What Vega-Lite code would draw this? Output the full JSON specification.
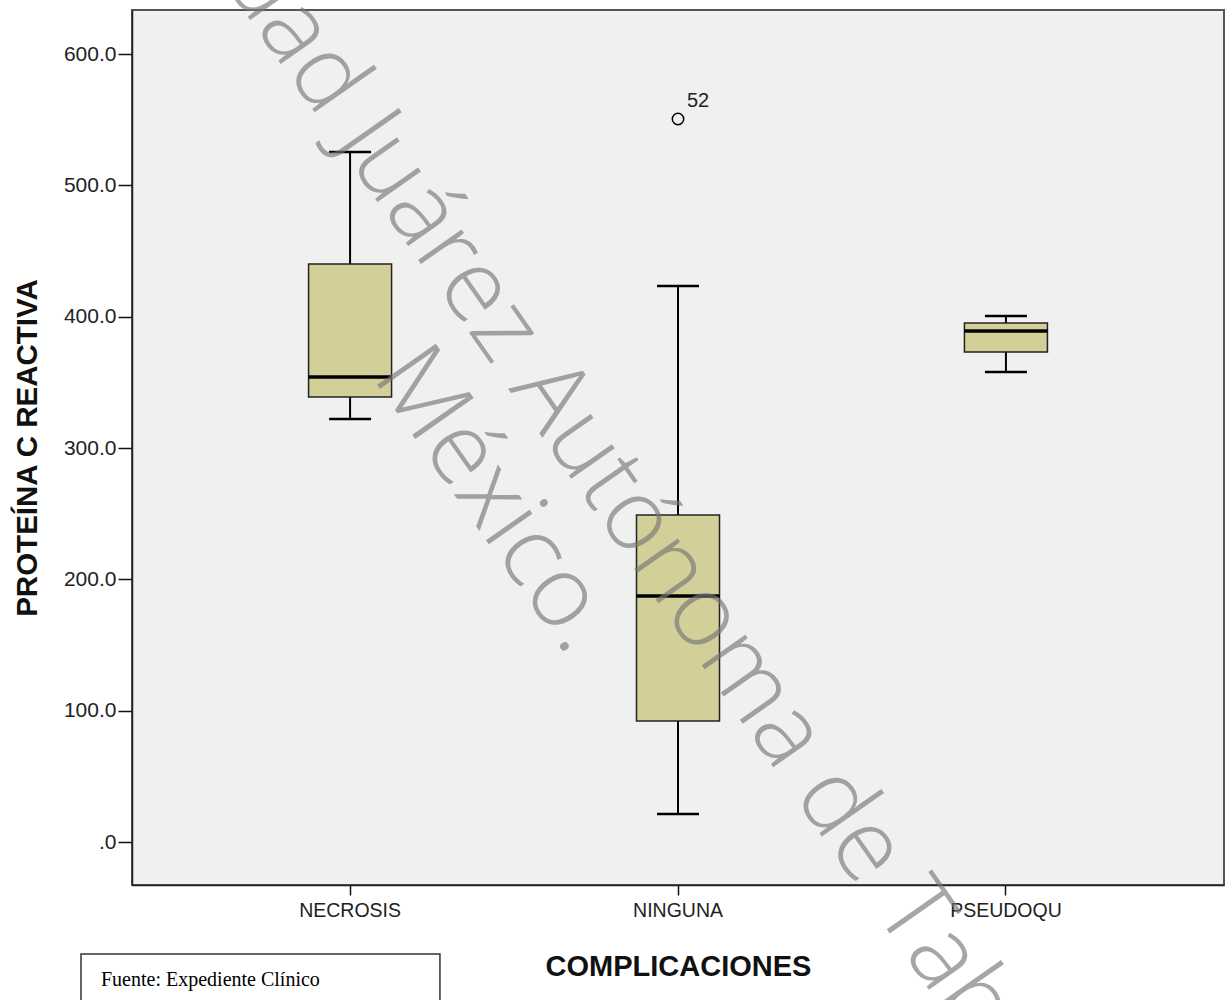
{
  "$schema": "https://vega.github.io/schema/vega-lite/v6.json",
  "width": 1092,
  "height": 875,
  "autosize": {"type": "none"},
  "padding": {"left": 132, "top": 10, "right": 2, "bottom": 115},
  "background": "white",
  "config": {
    "view": {"fill": "#f0f0f0", "stroke": "#555", "strokeWidth": 2},
    "font": "Liberation Sans"
  },
  "datasets": {
    "stats": [
      {"complicacion": "NECROSIS", "lower": 322.2, "q1": 338.9, "median": 354.1, "q3": 440.2, "upper": 525.5},
      {"complicacion": "NINGUNA", "lower": 21.3, "q1": 92.2, "median": 187.4, "q3": 249.0, "upper": 423.5},
      {"complicacion": "PSEUDOQU", "lower": 358.0, "q1": 373.2, "median": 389.2, "q3": 395.3, "upper": 400.6}
    ],
    "outliers": [
      {"complicacion": "NINGUNA", "pcr": 550.6, "caso": "52"}
    ],
    "notes": [
      {"tipo": "fuente", "texto": "Fuente: Expediente Clínico"},
      {"tipo": "marca1", "texto": "Universidad Juárez Autónoma de Tabasco."},
      {"tipo": "marca2", "texto": "México."}
    ]
  },
  "resolve": {"scale": {"x": "independent"}, "axis": {"x": "independent", "y": "independent"}},
  "layer": [
    {
      "data": {"name": "stats"},
      "encoding": {
        "x": {
          "field": "complicacion",
          "type": "nominal",
          "scale": {"domain": ["NECROSIS", "NINGUNA", "PSEUDOQU"], "paddingInner": 0, "paddingOuter": 0.165},
          "axis": {
            "title": "COMPLICACIONES",
            "titleFontSize": 29,
            "titleFontWeight": "bold",
            "titleColor": "#111",
            "titlePadding": 33,
            "labelFontSize": 19.5,
            "labelColor": "#222",
            "labelAngle": 0,
            "labelPadding": 6,
            "tickSize": 10,
            "tickColor": "#111",
            "tickWidth": 1.5,
            "domainColor": "#222",
            "domainWidth": 1.5
          }
        }
      },
      "layer": [
        {
          "mark": {"type": "rule", "color": "black", "strokeWidth": 2},
          "encoding": {
            "y": {
              "field": "lower",
              "type": "quantitative",
              "scale": {"domain": [-32.7, 633.6], "nice": false, "zero": false},
              "axis": {
                "title": "PROTEÍNA C REACTIVA",
                "values": [0, 100, 200, 300, 400, 500, 600],
                "labelExpr": "datum.value == 0 ? '.0' : format(datum.value, '.1f')",
                "grid": false,
                "titleFontSize": 29.5,
                "titleFontWeight": "bold",
                "titleColor": "#111",
                "titlePadding": 21,
                "labelFontSize": 21,
                "labelColor": "#222",
                "labelPadding": 2,
                "tickSize": 14,
                "tickColor": "#111",
                "tickWidth": 1.5,
                "domainColor": "#222",
                "domainWidth": 1.5
              }
            },
            "y2": {"field": "upper"}
          }
        },
        {
          "mark": {"type": "tick", "color": "black", "thickness": 2.5, "size": 42, "opacity": 1},
          "encoding": {"y": {"field": "lower", "type": "quantitative"}}
        },
        {
          "mark": {"type": "tick", "color": "black", "thickness": 2.5, "size": 42, "opacity": 1},
          "encoding": {"y": {"field": "upper", "type": "quantitative"}}
        },
        {
          "mark": {"type": "bar", "fill": "#d3cf98", "stroke": "#222", "strokeWidth": 1.5, "width": 83},
          "encoding": {"y": {"field": "q1", "type": "quantitative"}, "y2": {"field": "q3"}}
        },
        {
          "mark": {"type": "tick", "color": "black", "thickness": 3.5, "size": 83, "opacity": 1},
          "encoding": {"y": {"field": "median", "type": "quantitative"}}
        },
        {
          "data": {"name": "outliers"},
          "mark": {"type": "point", "shape": "circle", "filled": false, "stroke": "black", "strokeWidth": 1.5, "size": 130, "opacity": 1},
          "encoding": {"y": {"field": "pcr", "type": "quantitative"}}
        },
        {
          "data": {"name": "outliers"},
          "mark": {"type": "text", "align": "left", "baseline": "alphabetic", "dx": 9, "dy": -12, "fontSize": 20, "color": "#222"},
          "encoding": {"y": {"field": "pcr", "type": "quantitative"}, "text": {"field": "caso"}}
        }
      ]
    },
    {
      "data": {"name": "notes"},
      "layer": [
        {
          "transform": [{"filter": "datum.tipo == 'fuente'"}],
          "mark": {"type": "rect", "fill": "white", "stroke": "#333", "strokeWidth": 1.5},
          "encoding": {
            "x": {"datum": -0.0467, "type": "quantitative", "scale": {"domain": [0, 1], "nice": false, "zero": false}, "axis": null},
            "x2": {"datum": 0.282},
            "y": {"datum": -85.3, "type": "quantitative", "axis": null},
            "y2": {"datum": -130}
          }
        },
        {
          "transform": [{"filter": "datum.tipo == 'fuente'"}],
          "mark": {"type": "text", "align": "left", "baseline": "alphabetic", "font": "Liberation Serif", "fontSize": 20, "color": "black"},
          "encoding": {
            "x": {"datum": -0.0284, "type": "quantitative", "axis": null},
            "y": {"datum": -109.6, "type": "quantitative", "axis": null},
            "text": {"field": "texto"}
          }
        },
        {
          "transform": [{"filter": "datum.tipo == 'marca1'"}],
          "mark": {"type": "text", "align": "center", "baseline": "middle", "angle": 55, "font": "Open Sans", "fontWeight": 300, "fontSize": 100, "color": "#777", "opacity": 0.65},
          "encoding": {
            "x": {"datum": 0.411, "type": "quantitative", "axis": null},
            "y": {"datum": 306, "type": "quantitative", "axis": null},
            "text": {"field": "texto"}
          }
        },
        {
          "transform": [{"filter": "datum.tipo == 'marca2'"}],
          "mark": {"type": "text", "align": "center", "baseline": "middle", "angle": 55, "font": "Open Sans", "fontWeight": 300, "fontSize": 100, "color": "#777", "opacity": 0.65},
          "encoding": {
            "x": {"datum": 0.332, "type": "quantitative", "axis": null},
            "y": {"datum": 260.5, "type": "quantitative", "axis": null},
            "text": {"field": "texto"}
          }
        }
      ]
    }
  ]
}
